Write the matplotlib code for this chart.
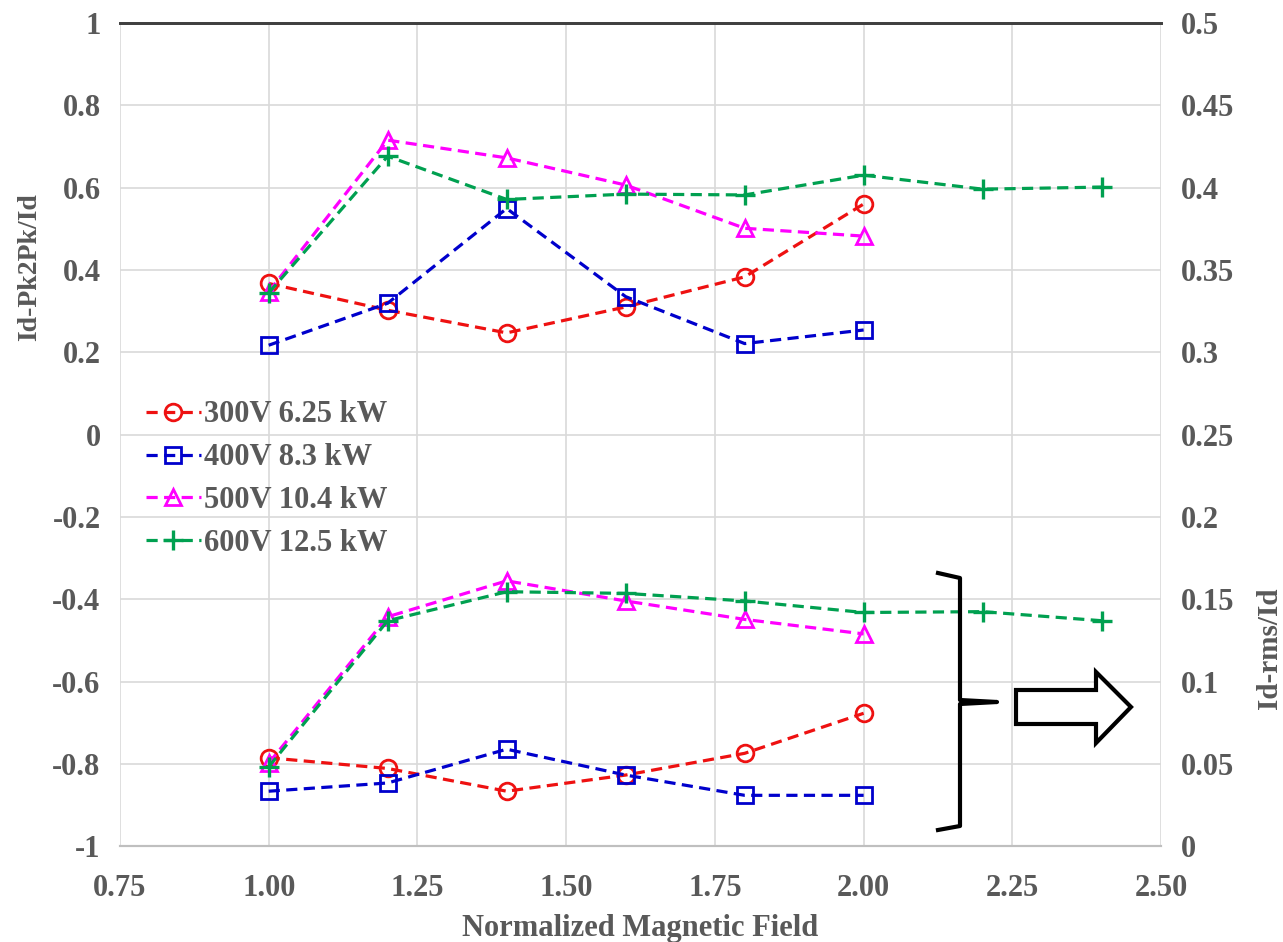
import numpy as np
import matplotlib.pyplot as plt
from matplotlib.patches import Polygon
from matplotlib.lines import Line2D

# normalized magnetic field
field = [1.0, 1.2, 1.4, 1.6, 1.8, 2.0]
field_600 = [1.0, 1.2, 1.4, 1.6, 1.8, 2.0, 2.2, 2.4]

labels = ['300V 6.25 kW', '400V 8.3 kW', '500V 10.4 kW', '600V 12.5 kW']

# Id-Pk2Pk/Id (left axis)
pk_300 = [0.367, 0.302, 0.247, 0.310, 0.383, 0.560]
pk_400 = [0.217, 0.319, 0.549, 0.335, 0.221, 0.254]
pk_500 = [0.347, 0.715, 0.672, 0.606, 0.501, 0.482]
pk_600 = [0.344, 0.676, 0.571, 0.584, 0.582, 0.630, 0.596, 0.601]

# Id-rms/Id (right axis)
rms_300 = [0.0538, 0.0473, 0.0335, 0.0433, 0.0565, 0.0808]
rms_400 = [0.0335, 0.0385, 0.0590, 0.0433, 0.0310, 0.0310]
rms_500 = [0.0505, 0.1394, 0.1612, 0.1490, 0.1378, 0.1290]
rms_600 = [0.0483, 0.1370, 0.1546, 0.1536, 0.1490, 0.1420, 0.1425, 0.1370]

colors = ['#ee1111', '#0000cc', '#ff00ff', '#00a050']
markers = ['o', 's', '^', '+']

plt.rcParams['font.family'] = ['Liberation Serif', 'DejaVu Serif']
plt.rcParams['font.weight'] = 'bold'
plt.rcParams['axes.labelweight'] = 'bold'
gray = '#595959'

fig = plt.figure(figsize=(12.83, 9.42), dpi=100)
ax = fig.add_axes([0.0935, 0.1015, 0.8115, 0.8743])
ax2 = ax.twinx()

xs = [field, field, field, field_600]
ups = [pk_300, pk_400, pk_500, pk_600]
lows = [rms_300, rms_400, rms_500, rms_600]

for i in range(4):
    style = dict(color=colors[i], marker=markers[i], ms=12, mew=2.0,
                 mfc='none', lw=2.3, dashes=(3.5, 2.0))
    if markers[i] == '+':
        style['ms'] = 15
        style['mew'] = 2.4
    ax.plot(xs[i], ups[i], label=labels[i], **style)
    ax2.plot(xs[i], lows[i], **style)

ax.set_xlim(0.75, 2.5)
ax.set_ylim(-1, 1)
ax2.set_ylim(0, 0.5)
ax.set_xticks(np.arange(0.75, 2.51, 0.25))
ax.set_xticklabels(['%.2f' % v for v in np.arange(0.75, 2.51, 0.25)])
ax.set_yticks(np.arange(-1, 1.01, 0.2))
ax.set_yticklabels(['-1', '-0.8', '-0.6', '-0.4', '-0.2', '0', '0.2', '0.4',
                    '0.6', '0.8', '1'])
ax2.set_yticks(np.arange(0, 0.51, 0.05))
ax2.set_yticklabels(['0', '0.05', '0.1', '0.15', '0.2', '0.25', '0.3', '0.35',
                     '0.4', '0.45', '0.5'])

ax.grid(True, color='#d9d9d9', lw=1.2)
ax.set_axisbelow(True)
for a in (ax, ax2):
    for s in ['left', 'right']:
        a.spines[s].set_visible(False)
    a.spines['top'].set_color('#404040')
    a.spines['top'].set_linewidth(2)
    a.spines['bottom'].set_color('#bfbfbf')
    a.spines['bottom'].set_linewidth(1.5)
    a.tick_params(length=0, labelsize=22, labelcolor=gray, pad=14)
ax.tick_params(axis='x', pad=20)

ax.set_xlabel('Normalized Magnetic Field', fontsize=22, color=gray,
              fontweight='bold', labelpad=8)
ax.set_ylabel('Id-Pk2Pk/Id', fontsize=20, color=gray, fontweight='bold')
ax2.set_ylabel('Id-rms/Id', fontsize=21, color=gray, fontweight='bold')
# labels sit off-centre in the original
ax.yaxis.set_label_coords(-0.075, 0.703)
ax2.yaxis.set_label_coords(1.091, 0.241)

leg = ax.legend(loc='upper left', bbox_to_anchor=(0.01, 0.56), frameon=False,
                fontsize=22, labelcolor=gray, handlelength=1.8,
                handletextpad=0.1, labelspacing=0.45, numpoints=1,
                borderpad=0)

# brace and hollow arrow pointing to the right axis
bx = [938, 960, 960, 997, 960, 960, 938]
by = [573, 578, 700, 702, 704, 826, 830]
brace = Line2D(bx, [942 - v for v in by], transform=None, color='black', lw=3)
fig.lines.append(brace)
arrow = Polygon([(1016, 942 - 690), (1096, 942 - 690), (1096, 942 - 672),
                 (1131, 942 - 707), (1096, 942 - 743), (1096, 942 - 724),
                 (1016, 942 - 724)], closed=True, transform=None,
                fc='white', ec='black', lw=3)
fig.patches.append(arrow)

fig.savefig('out.png', dpi=100)
